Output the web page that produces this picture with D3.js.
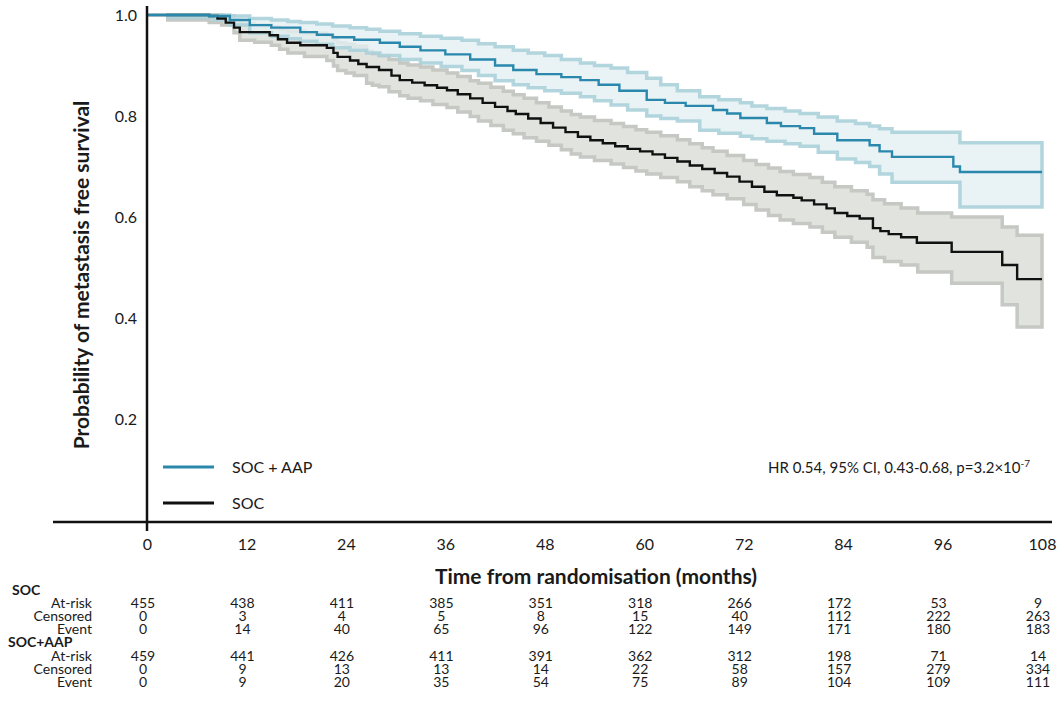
<!DOCTYPE html>
<html>
<head>
<meta charset="utf-8">
<script src="https://cdn.jsdelivr.net/npm/d3@7"></script>
<style>
  body { margin: 0; background: #fff; }
  text { font-family: Lato, "Open Sans", Arial, sans-serif; fill: #1a1a1a; }
  .tickLabel { font-size: 16px; }
  .noteLabel { font-size: 15px; }
  .axisTitle { font-size: 21px; font-weight: 700; }
  .tableText { font-size: 14px; }
</style>
</head>
<body>
<svg id="chart" width="1058" height="709"></svg>
<script>
/// x axis ticks (months) and y ticks
var monthTicks = [0, 12, 24, 36, 48, 60, 72, 84, 96, 108];
var survTicks = [0.2, 0.4, 0.6, 0.8, 1.0];

/// SOC curve (step times in months, survival)
var socTime = [0, 7.5, 8.5, 9.5, 10.5, 11.2, 14.8, 15.8, 16.9, 18.5, 21.7, 22.5, 23, 24.5, 25.5,
               26.5, 28, 29.5, 30.5, 32, 33.5, 35, 36.2, 37.5, 39, 40.5, 42, 43.5, 44.5, 46,
               47.5, 49, 50.5, 52, 53.5, 55, 56.5, 58, 59.5, 61, 62.5, 64, 65.5, 67, 68.5,
               70, 71.5, 73, 74.5, 76, 78, 79, 80.5, 82, 83, 84.5, 86, 87.6, 88.5, 89.5,
               91, 92.9, 97.1, 103.2, 105, 108];
var socSurv = [1.0, 0.998, 0.993, 0.985, 0.975, 0.966, 0.960, 0.952, 0.945, 0.940, 0.935, 0.925, 0.917, 0.910, 0.903,
               0.897, 0.891, 0.880, 0.871, 0.866, 0.861, 0.856, 0.851, 0.843, 0.835, 0.826, 0.818, 0.810, 0.804, 0.795,
               0.786, 0.777, 0.768, 0.759, 0.752, 0.746, 0.740, 0.735, 0.730, 0.724, 0.717, 0.710, 0.702, 0.695, 0.687,
               0.680, 0.670, 0.660, 0.650, 0.643, 0.638, 0.633, 0.625, 0.617, 0.608, 0.602, 0.597, 0.578, 0.572, 0.566,
               0.560, 0.549, 0.531, 0.505, 0.477, 0.477];

/// SOC 95% CI
var socCiTime  = [2.5, 7.5, 9, 10.5, 11.2, 13, 15, 16, 17, 19, 21.7, 22.5, 23, 24, 25, 26.5, 27.2, 28, 29.2, 30.5,
                  31.5, 33, 34.5, 36.2, 37.5, 39, 40, 41.5, 43, 44.2, 45.5, 47, 48.5, 50, 51.2, 52.3, 54, 56, 57.5, 59,
                  60.3, 62, 64, 65.5, 67, 68.3, 70, 72, 73.5, 75, 76.4, 78, 80, 81.5, 83, 85, 86.9, 87.6, 89, 91,
                  93, 97.1, 103.2, 105, 108];
var socCiUpper = [1.0, 1.0, 0.998, 0.990, 0.983, 0.980, 0.976, 0.972, 0.968, 0.964, 0.960, 0.952, 0.945, 0.942, 0.938,
                  0.928, 0.924, 0.920, 0.912, 0.905, 0.901, 0.897, 0.891, 0.885, 0.878, 0.870, 0.865, 0.857, 0.849, 0.842,
                  0.835, 0.826, 0.818, 0.810, 0.803, 0.798, 0.791, 0.785, 0.779, 0.773, 0.768, 0.761, 0.753, 0.745, 0.737,
                  0.730, 0.722, 0.712, 0.704, 0.697, 0.690, 0.684, 0.678, 0.669, 0.660, 0.652, 0.645, 0.634, 0.626, 0.618,
                  0.608, 0.600, 0.580, 0.564, 0.564];
var socCiLower = [0.990, 0.985, 0.980, 0.965, 0.950, 0.946, 0.940, 0.932, 0.925, 0.918, 0.910, 0.899, 0.890, 0.885, 0.880,
                  0.865, 0.861, 0.858, 0.848, 0.840, 0.835, 0.830, 0.823, 0.817, 0.808, 0.799, 0.790, 0.781, 0.772, 0.765,
                  0.757, 0.750, 0.742, 0.733, 0.725, 0.719, 0.712, 0.705, 0.698, 0.691, 0.685, 0.678, 0.670, 0.660, 0.652,
                  0.644, 0.636, 0.625, 0.614, 0.603, 0.594, 0.587, 0.580, 0.570, 0.560, 0.550, 0.540, 0.520, 0.512, 0.505,
                  0.491, 0.469, 0.426, 0.382, 0.382];

/// SOC + AAP curve
var aapTime = [0, 7.5, 10, 12.4, 15, 18.5, 20.5, 22.4, 25, 28.1, 30.5, 33, 36, 39, 42, 44.2, 47, 50,
               52.3, 54.5, 57, 60.3, 62.5, 65, 68.3, 70, 71.6, 74.8, 76.5, 78.8, 80.5, 83.3, 87.2, 88.4,
               89.9, 97.3, 98.1, 108];
var aapSurv = [1.0, 0.998, 0.990, 0.980, 0.975, 0.966, 0.961, 0.956, 0.951, 0.945, 0.937, 0.930, 0.922, 0.912,
               0.900, 0.891, 0.883, 0.877, 0.871, 0.862, 0.850, 0.832, 0.826, 0.820, 0.812, 0.805, 0.796, 0.786,
               0.780, 0.776, 0.765, 0.752, 0.742, 0.730, 0.719, 0.700, 0.689, 0.689];

/// SOC + AAP 95% CI
var aapCiTime  = [2.5, 8, 10, 12.4, 15, 17, 18.5, 20.5, 22.4, 24.5, 26.5, 28.1, 30.5, 33, 35.5, 38, 40, 42, 44.2, 46,
                  48, 50, 52.3, 54, 56, 58, 60.3, 62, 64, 66.7, 69, 71.6, 73, 74.8, 77, 78.8, 81, 83.3, 85.5, 87.2,
                  88.4, 89.9, 98.1, 108];
var aapCiUpper = [1.0, 1.0, 0.998, 0.993, 0.990, 0.987, 0.985, 0.982, 0.978, 0.975, 0.972, 0.968, 0.963, 0.958, 0.954,
                  0.950, 0.943, 0.937, 0.930, 0.925, 0.920, 0.912, 0.905, 0.900, 0.895, 0.886, 0.875, 0.862, 0.850, 0.838,
                  0.832, 0.826, 0.820, 0.815, 0.810, 0.805, 0.798, 0.790, 0.785, 0.780, 0.775, 0.768, 0.747, 0.747];
var aapCiLower = [0.995, 0.990, 0.980, 0.965, 0.958, 0.953, 0.948, 0.942, 0.935, 0.930, 0.925, 0.920, 0.912, 0.905, 0.898,
                  0.890, 0.880, 0.870, 0.862, 0.856, 0.850, 0.845, 0.838, 0.830, 0.822, 0.812, 0.800, 0.795, 0.790, 0.772,
                  0.766, 0.760, 0.755, 0.750, 0.745, 0.740, 0.728, 0.715, 0.708, 0.700, 0.685, 0.669, 0.620, 0.620];

/// numbers at risk table
var socAtRisk   = [455, 438, 411, 385, 351, 318, 266, 172, 53, 9];
var socCensored = [0, 3, 4, 5, 8, 15, 40, 112, 222, 263];
var socEvent    = [0, 14, 40, 65, 96, 122, 149, 171, 180, 183];
var aapAtRisk   = [459, 441, 426, 411, 391, 362, 312, 198, 71, 14];
var aapCensored = [0, 9, 13, 13, 14, 22, 58, 157, 279, 334];
var aapEvent    = [0, 9, 20, 35, 54, 75, 89, 104, 109, 111];

/// colours
var blue = "#2a88ad", blueFill = "#e3eff1", blueEdge = "#abd1da",
    black = "#111111", greyFill = "#e1e3df", greyEdge = "#c6c8c4";

var svg = d3.select("#chart");

/// scales
var x = d3.scaleLinear().domain([0, 108]).range([147, 1042]);
var y = d3.scaleLinear().domain([0, 1]).range([520, 15]);

function zipCurve(t, s) { return t.map((d, i) => ({t: d, s: s[i]})); }
function zipBand(t, lo, hi) { return t.map((d, i) => ({t: d, lo: lo[i], hi: hi[i]})); }

var band = d3.area()
             .curve(d3.curveStepAfter)
             .x(d => x(d.t))
             .y0(d => y(d.lo))
             .y1(d => y(d.hi));

var line = d3.line()
             .curve(d3.curveStepAfter)
             .x(d => x(d.t))
             .y(d => y(d.s));

// confidence bands
svg.append("path")
   .datum(zipBand(socCiTime, socCiLower, socCiUpper))
   .attr("d", band)
   .style("fill", greyFill)
   .style("stroke", greyEdge)
   .style("stroke-width", 3.5);

svg.append("path")
   .datum(zipBand(aapCiTime, aapCiLower, aapCiUpper))
   .attr("d", band)
   .style("fill", blueFill)
   .style("fill-opacity", 0.8)
   .style("stroke", blueEdge)
   .style("stroke-opacity", 0.9)
   .style("stroke-width", 3.5);

// survival curves
svg.append("path")
   .datum(zipCurve(socTime, socSurv))
   .attr("d", line)
   .style("fill", "none")
   .style("stroke", black)
   .style("stroke-width", 2.4);

svg.append("path")
   .datum(zipCurve(aapTime, aapSurv))
   .attr("d", line)
   .style("fill", "none")
   .style("stroke", blue)
   .style("stroke-width", 2.4);

// axes
var yAxis = svg.append("g")
               .attr("transform", "translate(" + x(0) + ",0)")
               .call(d3.axisLeft(y).tickValues(survTicks).tickSize(0).tickPadding(10)
                       .tickFormat(d3.format(".1f")));
yAxis.select(".domain").remove();
yAxis.selectAll("text").attr("class", "tickLabel").attr("fill", null);

var xAxis = svg.append("g")
               .attr("transform", "translate(0," + 522 + ")")
               .call(d3.axisBottom(x).tickValues(monthTicks).tickSize(0).tickPadding(17));
xAxis.select(".domain").remove();
xAxis.selectAll("text").attr("class", "tickLabel").attr("fill", null);

svg.append("line")
   .attr("x1", x(0)).attr("x2", x(0))
   .attr("y1", 6).attr("y2", 531)
   .style("stroke", "#111").style("stroke-width", 2.5);

svg.append("line")
   .attr("x1", 53).attr("x2", 1052)
   .attr("y1", 522).attr("y2", 522)
   .style("stroke", "#111").style("stroke-width", 2.5);

// axis titles
svg.append("text")
   .attr("class", "axisTitle")
   .attr("transform", "translate(89,275) rotate(-90)")
   .attr("text-anchor", "middle")
   .text("Probability of metastasis free survival");

svg.append("text")
   .attr("class", "axisTitle")
   .attr("x", 596)
   .attr("y", 584)
   .attr("text-anchor", "middle")
   .text("Time from randomisation (months)");

// legend
var legend = [{label: "SOC + AAP", color: blue, y: 467},
              {label: "SOC", color: black, y: 503}];

svg.selectAll(".legLine")
   .data(legend)
   .enter()
   .append("line")
   .attr("x1", 163).attr("x2", 214)
   .attr("y1", d => d.y).attr("y2", d => d.y)
   .style("stroke", d => d.color)
   .style("stroke-width", 3);

svg.selectAll(".legText")
   .data(legend)
   .enter()
   .append("text")
   .attr("class", "tickLabel")
   .attr("x", 232)
   .attr("y", d => d.y + 6)
   .text(d => d.label);

// hazard ratio note
var hr = svg.append("text")
            .attr("class", "noteLabel")
            .attr("x", 1030)
            .attr("y", 473)
            .attr("text-anchor", "end");
hr.append("tspan").text("HR 0.54, 95% CI, 0.43-0.68, p=3.2×10");
hr.append("tspan").attr("dy", -6).style("font-size", "10px").text("-7");

// numbers at risk table
var tableRows = [{label: "SOC", head: true},
                 {label: "At-risk", values: socAtRisk},
                 {label: "Censored", values: socCensored},
                 {label: "Event", values: socEvent},
                 {label: "SOC+AAP", head: true},
                 {label: "At-risk", values: aapAtRisk},
                 {label: "Censored", values: aapCensored},
                 {label: "Event", values: aapEvent}];

var rowY = i => 595 + i * 13.1;

tableRows.forEach(function(row, i) {
  if (row.head) {
    svg.append("text")
       .attr("class", "tableText")
       .attr("x", row.label === "SOC" ? 12 : 8)
       .attr("y", rowY(i))
       .style("font-weight", 700)
       .text(row.label);
    return;
  }
  svg.append("text")
     .attr("class", "tableText")
     .attr("x", 92)
     .attr("y", rowY(i))
     .attr("text-anchor", "end")
     .text(row.label);

  svg.selectAll(null)
     .data(row.values)
     .enter()
     .append("text")
     .attr("class", "tableText")
     .attr("x", (d, j) => x(monthTicks[j]) - 4)
     .attr("y", rowY(i))
     .attr("text-anchor", "middle")
     .text(d => d);
});
</script>
</body>
</html>
